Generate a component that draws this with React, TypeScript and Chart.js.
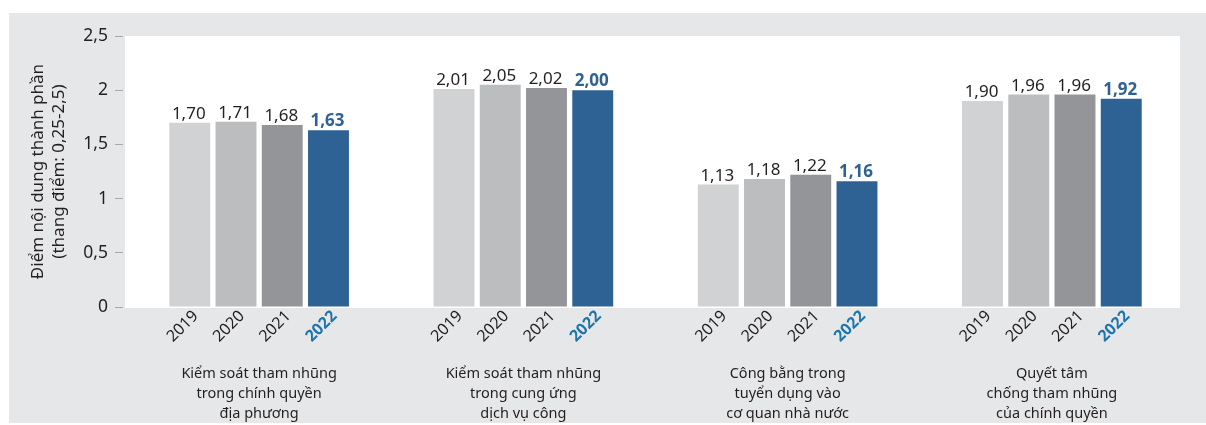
import React, { useEffect, useRef } from "react";
import { Chart, registerables } from "chart.js";

Chart.register(...registerables);

const categories: string[][] = [
  ["Kiểm soát tham nhũng", "trong chính quyền", "địa phương"],
  ["Kiểm soát tham nhũng", "trong cung ứng", "dịch vụ công"],
  ["Công bằng trong", "tuyển dụng vào", "cơ quan nhà nước"],
  ["Quyết tâm", "chống tham nhũng", "của chính quyền"],
];
const years = ["2019", "2020", "2021", "2022"];
const values2019 = [1.7, 2.01, 1.13, 1.9];
const values2020 = [1.71, 2.05, 1.18, 1.96];
const values2021 = [1.68, 2.02, 1.22, 1.96];
const values2022 = [1.63, 2.0, 1.16, 1.92];
const yTitle = ["Điểm nội dung thành phần", "(thang điểm: 0,25-2,5)"];

const seriesValues = [values2019, values2020, values2021, values2022];
const barColors = ["#d1d2d4", "#bcbdbf", "#939598", "#2e6294"];
const FONT = "'Noto Sans', sans-serif";
const TEXT = "#231f20";

const fmt = (v: number) => v.toFixed(2).replace(".", ",");

export default function App() {
  const ref = useRef<HTMLCanvasElement | null>(null);
  useEffect(() => {
    if (!ref.current) return;
    const bgPlugin = {
      id: "bg",
      beforeDraw(chart: any) {
        const { ctx, chartArea } = chart;
        ctx.save();
        ctx.fillStyle = "#ffffff";
        ctx.fillRect(0, 0, chart.width, chart.height);
        ctx.fillStyle = "#e6e7e8";
        ctx.fillRect(9, 13, chart.width - 9, 410);
        ctx.fillStyle = "#ffffff";
        ctx.fillRect(
          chartArea.left - 2,
          chartArea.top,
          chartArea.right - chartArea.left - 2,
          chartArea.bottom - chartArea.top + 1
        );
        ctx.restore();
      },
    };
    const labelPlugin = {
      id: "labels",
      afterDatasetsDraw(chart: any) {
        const { ctx } = chart;
        ctx.save();
        chart.data.datasets.forEach((ds: any, i: number) => {
          const meta = chart.getDatasetMeta(i);
          const last = i === years.length - 1;
          meta.data.forEach((bar: any, j: number) => {
            const v = ds.data[j];
            ctx.font = `${last ? "bold " : ""}17px ${FONT}`;
            ctx.fillStyle = last ? "#2e6294" : TEXT;
            ctx.textAlign = "center";
            ctx.textBaseline = "alphabetic";
            ctx.fillText(fmt(v), bar.x - 1, bar.y - 4);
            ctx.save();
            ctx.translate(bar.x + 6, bar.base + 7);
            ctx.rotate(-Math.PI / 4);
            ctx.font = `${last ? "bold " : ""}16px ${FONT}`;
            ctx.fillStyle = last ? "#1c75ad" : TEXT;
            ctx.textAlign = "right";
            ctx.textBaseline = "middle";
            ctx.fillText(years[i], 0, 0);
            ctx.restore();
          });
        });
        ctx.restore();
      },
    };
    const chart = new Chart(ref.current, {
      type: "bar",
      data: {
        labels: categories,
        datasets: years.map((y, i) => ({
          label: y,
          data: seriesValues[i],
          backgroundColor: barColors[i],
          borderWidth: 0,
          categoryPercentage: 0.7,
          barPercentage: 0.885,
        })),
      },
      options: {
        responsive: false,
        animation: false,
        layout: { padding: { top: 36, right: 22, left: 0, bottom: 0 } },
        plugins: {
          legend: { display: false },
          tooltip: { enabled: false },
        },
        scales: {
          x: {
            grid: { display: false, drawTicks: false },
            border: { display: false },
            ticks: {
              color: TEXT,
              font: { family: FONT, size: 14.5, lineHeight: 1.38 },
              padding: 57,
              maxRotation: 0,
              autoSkip: false,
            },
            afterFit(scale: any) {
              scale.height = 118;
            },
          },
          y: {
            min: 0,
            max: 2.5,
            border: { display: false },
            grid: {
              drawOnChartArea: false,
              drawTicks: true,
              tickLength: 12,
              tickColor: "#a7a9ac",
              tickBorderDash: [8, 40],
              lineWidth: 1,
            },
            ticks: {
              stepSize: 0.5,
              color: TEXT,
              padding: 7,
              font: { family: FONT, size: 17.5 },
              callback: (v: any) => String(v).replace(".", ","),
            },
            title: {
              display: true,
              text: yTitle,
              color: TEXT,
              font: { family: FONT, size: 17, lineHeight: 1.24 },
              padding: { top: 28, bottom: 0 },
            },
            afterFit(scale: any) {
              scale.width = 127;
            },
          },
        },
      },
      plugins: [bgPlugin, labelPlugin],
    } as any);
    return () => chart.destroy();
  }, []);
  return (
    <div style={{ position: "fixed", left: 0, top: 0, width: 1206, height: 425 }}>
      <canvas ref={ref} width={1206} height={425} />
    </div>
  );
}
